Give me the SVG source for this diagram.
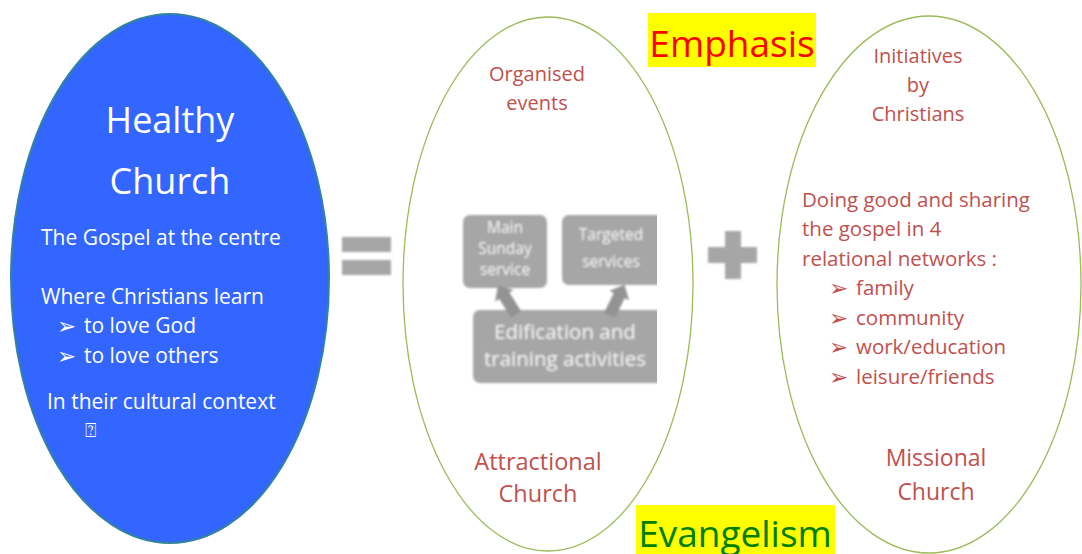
<svg xmlns="http://www.w3.org/2000/svg" width="1082" height="554" viewBox="0 0 1082 554">
  <style>
    .txt { font-family: "Open Sans", "Noto Sans", "DejaVu Sans", sans-serif; }
    .white { fill: #ffffff; }
    .red { fill: #C0504D; }
    .mid { text-anchor: middle; }
    .bullet { font-family: "DejaVu Sans", sans-serif; font-size: 23px; }
    .outline { fill: #ffffff; stroke: #9BBB59; stroke-width: 1.3; }
    .grey { fill: #A6A6A6; }
    .greytxt { fill: #F6F6F6; font-family: "Open Sans", "Noto Sans", sans-serif; text-anchor: middle; }
  </style>
  <defs>
    <filter id="soft" x="-10%" y="-10%" width="120%" height="120%">
      <feGaussianBlur stdDeviation="1.1"/>
    </filter>
    <clipPath id="innerClip">
      <rect x="440" y="200" width="217" height="190"/>
    </clipPath>
    <polygon id="blockArrow" points="0,-17 11,-5 6,-5 6,17 -6,17 -6,-5 -11,-5"/>
  </defs>

  <rect width="1082" height="554" fill="#ffffff"/>

  <!-- Healthy church -->
  <g id="healthy-church">
    <ellipse cx="170" cy="278.5" rx="159" ry="264.5" fill="#3366FF" stroke="#31849B" stroke-width="2"/>
    <text class="txt white mid" x="170" y="133" font-size="36">Healthy</text>
    <text class="txt white mid" x="170" y="194" font-size="36">Church</text>
    <text class="txt white" x="41" y="245" font-size="21">The Gospel at the centre</text>
    <text class="txt white" x="41" y="304" font-size="21">Where Christians learn</text>
    <text class="bullet white" x="57" y="334">➢</text>
    <text class="txt white" x="84" y="333" font-size="21">to love God</text>
    <text class="bullet white" x="57" y="364">➢</text>
    <text class="txt white" x="84" y="363" font-size="21">to love others</text>
    <text class="txt white" x="47" y="409" font-size="21">In their cultural context</text>
    <text class="white" x="85" y="437" font-size="19" font-family="DejaVu Sans, sans-serif">⍰</text>
  </g>

  <!-- equals sign -->
  <g id="equals" filter="url(#soft)">
    <rect class="grey" x="342" y="237" width="49" height="15"/>
    <rect class="grey" x="342" y="260" width="49" height="15"/>
  </g>

  <!-- Attractional church -->
  <g id="attractional-church">
    <ellipse class="outline" cx="548" cy="284" rx="145" ry="267"/>
    <text class="txt red mid" x="537" y="81" font-size="20">Organised</text>
    <text class="txt red mid" x="537" y="110" font-size="20">events</text>
    <text class="txt red mid" x="538" y="470" font-size="23.5">Attractional</text>
    <text class="txt red mid" x="538" y="502" font-size="23.5">Church</text>
  </g>

  <!-- inner activity diagram -->
  <g id="activities" clip-path="url(#innerClip)">
    <g filter="url(#soft)">
      <g id="main-sunday-service">
        <rect class="grey" x="463" y="215" width="84" height="73" rx="7"/>
        <text class="greytxt" x="505" y="233" font-size="15.5">Main</text>
        <text class="greytxt" x="505" y="254" font-size="15.5">Sunday</text>
        <text class="greytxt" x="505" y="275" font-size="15.5">service</text>
      </g>
      <g id="targeted-services">
        <rect class="grey" x="562" y="215" width="110" height="70" rx="7"/>
        <text class="greytxt" x="611" y="240" font-size="15.5">Targeted</text>
        <text class="greytxt" x="611" y="267" font-size="15.5">services</text>
      </g>
      <g id="edification-training">
        <rect class="grey" x="473" y="310" width="200" height="73" rx="7"/>
        <text class="greytxt" x="565" y="339" font-size="20.5">Edification and</text>
        <text class="greytxt" x="565" y="366" font-size="20.5">training activities</text>
      </g>
      <g id="connectors" fill="#939393">
        <use href="#blockArrow" transform="translate(507 300) rotate(-32)"/>
        <use href="#blockArrow" transform="translate(617 300) rotate(26)"/>
      </g>
    </g>
  </g>

  <!-- plus sign -->
  <g id="plus" filter="url(#soft)">
    <rect class="grey" x="725" y="231" width="16" height="48"/>
    <rect class="grey" x="708" y="247" width="49" height="16"/>
  </g>

  <!-- Missional church -->
  <g id="missional-church">
    <ellipse class="outline" cx="929" cy="284.5" rx="152" ry="268.5"/>
    <text class="txt red mid" x="918" y="63" font-size="20">Initiatives</text>
    <text class="txt red mid" x="918" y="92" font-size="20">by</text>
    <text class="txt red mid" x="918" y="121" font-size="20">Christians</text>
    <text class="txt red" x="802" y="207" font-size="20.5">Doing good and sharing</text>
    <text class="txt red" x="802" y="236" font-size="20.5">the gospel in 4</text>
    <text class="txt red" x="802" y="266" font-size="20.5">relational networks :</text>
    <text class="bullet red" x="829" y="296">➢</text>
    <text class="txt red" x="856" y="295" font-size="20.5">family</text>
    <text class="bullet red" x="829" y="326">➢</text>
    <text class="txt red" x="856" y="325" font-size="20.5">community</text>
    <text class="bullet red" x="829" y="355">➢</text>
    <text class="txt red" x="856" y="354" font-size="20.5">work/education</text>
    <text class="bullet red" x="829" y="385">➢</text>
    <text class="txt red" x="856" y="384" font-size="20.5">leisure/friends</text>
    <text class="txt red mid" x="936" y="466" font-size="23">Missional</text>
    <text class="txt red mid" x="936" y="500" font-size="23">Church</text>
  </g>

  <!-- highlighted labels -->
  <g id="emphasis">
    <rect x="648" y="13" width="168" height="54" fill="#FFFF00"/>
    <text class="txt mid" x="732" y="57" font-size="37" fill="#FF0000">Emphasis</text>
  </g>
  <g id="evangelism">
    <rect x="636" y="505" width="199" height="49" fill="#FFFF00"/>
    <text class="txt mid" x="735" y="547" font-size="37" fill="#008000">Evangelism</text>
  </g>
</svg>
